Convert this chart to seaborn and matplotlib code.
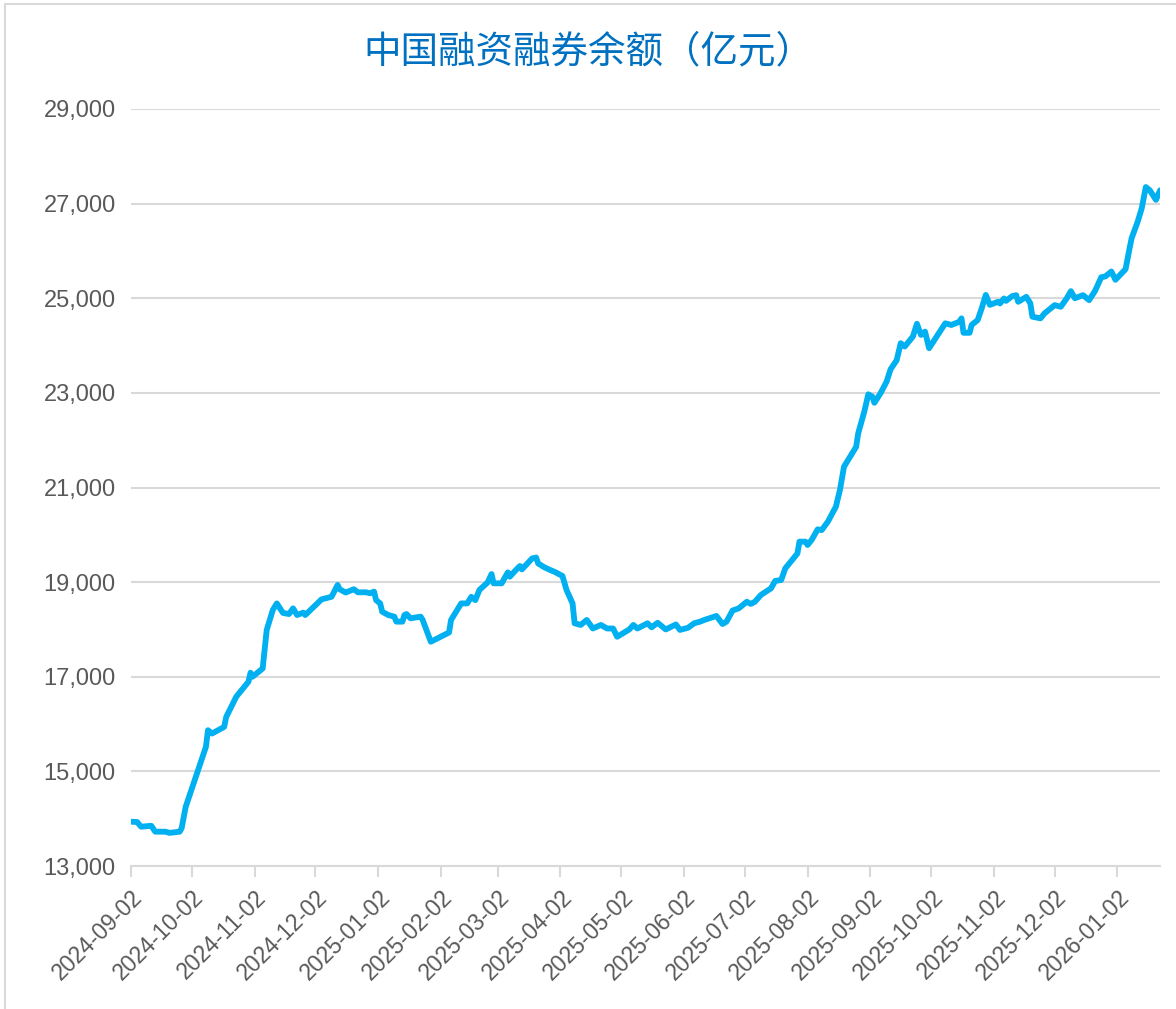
import pandas as pd
import seaborn as sns
import matplotlib.pyplot as plt
import matplotlib.ticker as mticker
import matplotlib.transforms as mtransforms
from matplotlib.patches import Rectangle

# days since 2024-09-02
day = [0, 3, 5, 10, 12, 17, 19, 24, 25, 27, 37, 38, 40, 46, 47, 52, 58, 59, 60, 65,
       67, 70, 72, 75, 78, 80, 82, 85, 86, 92, 94, 99, 102, 103, 106, 110, 112, 116, 118, 120,
       121, 123, 124, 127, 130, 131, 134, 135, 136, 138, 143, 144, 148, 157, 158, 163, 166, 168, 170, 172,
       176, 178, 179, 183, 186, 187, 190, 192, 193, 198, 200, 201, 204, 207, 209, 213, 215, 218, 219, 222,
       225, 228, 232, 235, 238, 240, 246, 248, 250, 255, 257, 260, 264, 269, 271, 275, 278, 281, 283, 289,
       292, 294, 297, 300, 304, 306, 308, 311, 316, 318, 321, 323, 325, 329, 330, 333, 334, 336, 339, 341,
       344, 348, 350, 352, 353, 358, 359, 362, 364, 366, 367, 370, 373, 375, 378, 380, 382, 386, 388, 390,
       392, 394, 402, 405, 409, 410, 411, 414, 415, 418, 420, 422, 424, 428, 429, 431, 432, 435, 437, 438,
       442, 444, 445, 449, 451, 456, 459, 462, 464, 466, 470, 473, 476, 479, 481, 484, 486, 491, 493, 494,
       497, 499, 501, 503, 506, 508]

# margin balance, 100 million yuan
balance = [13936, 13930, 13830, 13850, 13725, 13725, 13700, 13725, 13800, 14250, 15520, 15870, 15800, 15940, 16150, 16580, 16895, 17085, 17000, 17175,
           17990, 18410, 18550, 18350, 18325, 18445, 18305, 18355, 18305, 18550, 18635, 18690, 18940, 18850, 18780, 18850, 18785, 18785, 18765, 18800,
           18620, 18550, 18375, 18305, 18270, 18165, 18165, 18305, 18325, 18235, 18270, 18200, 17740, 17935, 18200, 18550, 18550, 18690, 18620, 18835,
           18990, 19170, 18975, 18975, 19205, 19115, 19255, 19340, 19270, 19500, 19520, 19395, 19315, 19255, 19220, 19130, 18835, 18550, 18130, 18095,
           18200, 18020, 18095, 18020, 18020, 17845, 18000, 18095, 18020, 18130, 18045, 18140, 18000, 18105, 17990, 18035, 18130, 18165, 18200, 18285,
           18115, 18165, 18400, 18445, 18585, 18540, 18585, 18730, 18870, 19025, 19045, 19290, 19395, 19605, 19855, 19855, 19785, 19890, 20115, 20100,
           20275, 20595, 20950, 21440, 21510, 21860, 22145, 22600, 22970, 22920, 22790, 22990, 23235, 23500, 23690, 24050, 23980, 24190, 24460, 24225,
           24295, 23945, 24470, 24435, 24505, 24575, 24270, 24270, 24435, 24540, 24790, 25070, 24860, 24925, 24890, 24995, 24945, 25045, 25065, 24925,
           25030, 24890, 24610, 24575, 24680, 24855, 24820, 25000, 25150, 25000, 25065, 24960, 25160, 25445, 25460, 25565, 25390, 25615, 26060, 26270,
           26620, 26905, 27350, 27280, 27080, 27280]

title = "中国融资融券余额（亿元）"
y_ticks = list(range(13000, 29001, 2000))

start = pd.Timestamp("2024-09-02")
df = pd.DataFrame({"date": start + pd.to_timedelta(day, unit="D"), "balance": balance})
tick_dates = pd.date_range("2024-09-01", periods=17, freq="MS") + pd.Timedelta(days=1)

sns.set_theme(style="white")
plt.rcParams["font.family"] = ["Liberation Sans", "Noto Sans CJK SC", "DejaVu Sans"]

fig = plt.figure(figsize=(11.76, 10.09), dpi=100)
ax = fig.add_axes([131 / 1176, 1 - 866 / 1009, (1160 - 131) / 1176, (866 - 109) / 1009])

sns.lineplot(data=df, x="date", y="balance", color="#00B0F0", linewidth=4.2, ax=ax)
ax.lines[0].set_solid_joinstyle("round")

ax.set_xlim(df["date"].min(), df["date"].max())
ax.set_ylim(13000, 29000)
ax.set_yticks(y_ticks)
ax.yaxis.set_major_formatter(mticker.StrMethodFormatter("{x:,.0f}"))
ax.set_xticks(tick_dates)
ax.set_xticklabels([d.strftime("%Y-%m-%d") for d in tick_dates], rotation=45,
                   ha="right", va="center", rotation_mode="anchor")
ax.set_xlabel("")
ax.set_ylabel("")

grey = "#D9D9D9"
ax.yaxis.grid(True, color=grey, linewidth=1.5)
ax.xaxis.grid(False)
for side in ["top", "right", "left"]:
    ax.spines[side].set_visible(False)
ax.spines["bottom"].set_color(grey)
ax.spines["bottom"].set_linewidth(1.5)
ax.spines["bottom"].set_zorder(0)
ax.tick_params(axis="x", length=8, width=1.5, color=grey, labelsize=16.5,
               labelcolor="#595959", pad=12, bottom=True)
ax.tick_params(axis="y", length=0, labelsize=17, labelcolor="#595959", pad=11)

shift = mtransforms.ScaledTranslation(6 / 72, 0, fig.dpi_scale_trans)
for lab in ax.get_xticklabels():
    lab.set_transform(lab.get_transform() + shift)

fig.text(0.5, 1 - 52 / 1009, title, ha="center", va="center", fontsize=27,
         color="#0070C0", family=["Noto Sans CJK SC", "DejaVu Sans"])

fig.patches.append(Rectangle((5 / 1176, -0.05), 1.2, 1.05 - 4 / 1009, transform=fig.transFigure,
                             fill=False, edgecolor=grey, linewidth=1.5))

fig.savefig("out.png", dpi=100)
